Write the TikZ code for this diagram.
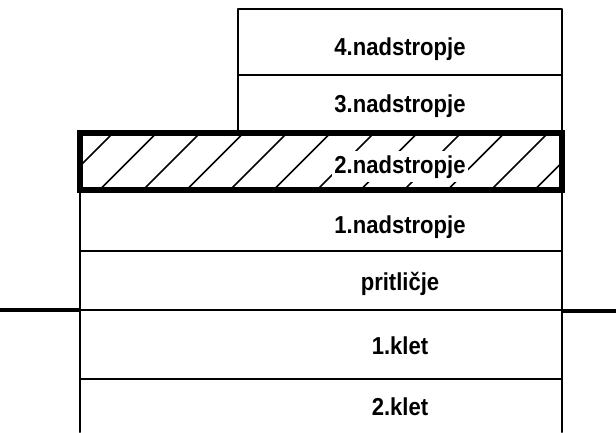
\documentclass[tikz,border=0pt]{standalone}
\usepackage{fontspec}
\setmainfont{Liberation Sans}[FakeStretch=0.9]
\begin{document}
\begin{tikzpicture}[x=1pt, y=-1pt, line join=round, line cap=round, font=\bfseries\fontsize{24.5}{24.5}\selectfont,
		flr/.style={anchor=base, inner sep=0pt}, thinl/.style={line width=2pt}]
			\useasboundingbox (0,0) rectangle (616,432);
			\def\xl{80}\def\xm{238}\def\xr{562}
			% hatched storey
			\begin{scope}
				\clip (\xl,133) rectangle (\xr,190);
				\foreach \i in {0,...,11}{\draw[line width=1.6pt] ({56+43.5*\i},190)--({113+43.5*\i},133);}
			\end{scope}
			\draw[line width=5.5pt, line cap=butt, line join=miter] (\xl,133) rectangle (\xr,190);
			% upper part
			\draw[thinl] (\xm,133)--(\xm,9)--(\xr,9)--(\xr,133);
			\draw[thinl] (\xm,75)--(\xr,75);
			% lower part
			\draw[thinl] (\xl,190)--(\xl,432);
			\draw[thinl] (\xr,190)--(\xr,432);
			\foreach \y in {251,310,379}{\draw[thinl] (\xl,\y)--(\xr,\y);}
			% ground
			\draw[line width=3.5pt, line cap=butt] (0,310)--(\xl,310);
			\draw[line width=4.5pt, line cap=butt] (\xr,311)--(616,311);
			% labels
			\node[flr] (n4) at (400,55) {4.nadstropje};
			\node[flr] (n3) at (400,112) {3.nadstropje};
			\node[flr, fill=white, inner xsep=2pt, inner ysep=4pt] (n2) at (400,173) {2.nadstropje};
			\node[flr] (n1) at (400,233) {1.nadstropje};
			\node[flr] (p) at (400,290) {pritličje};
			\node[flr] (k1) at (400,354) {1.klet};
			\node[flr] (k2) at (400,415) {2.klet};
		\end{tikzpicture}
\end{document}
